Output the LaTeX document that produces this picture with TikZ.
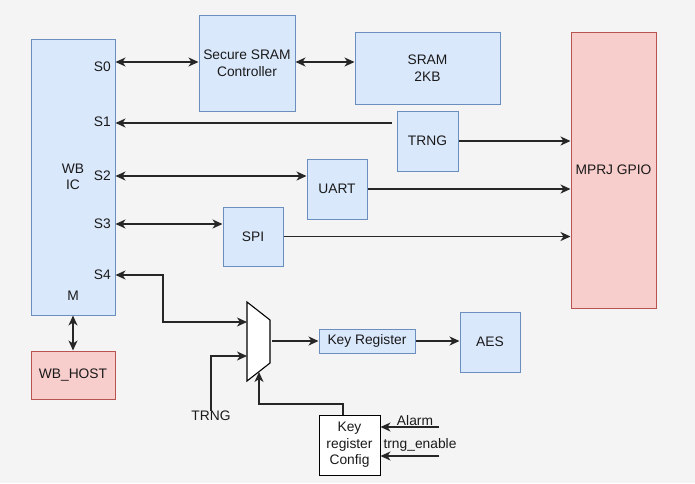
\documentclass[tikz,border=0pt]{standalone}
\usepackage{fontspec}
\setmainfont{Liberation Sans}
\usetikzlibrary{arrows.meta}
\definecolor{bgc}{HTML}{F4F4F4}
\definecolor{bfill}{HTML}{DAE8FC}
\definecolor{bdraw}{HTML}{6C8EBF}
\definecolor{rfill}{HTML}{F8CECC}
\definecolor{rdraw}{HTML}{B85450}
\definecolor{txt}{HTML}{1A1A1A}
\begin{document}
\begin{tikzpicture}[x=1pt,y=-1pt,
  font=\fontsize{13.8}{16.5}\selectfont,
  blk/.style={draw=bdraw,fill=bfill,line width=1pt,inner sep=0pt,align=center,text=txt},
  rblk/.style={draw=rdraw,fill=rfill,line width=1pt,inner sep=0pt,align=center,text=txt},
  wblk/.style={draw=black,fill=white,line width=1pt,inner sep=0pt,align=center,text=txt},
  lbl/.style={inner sep=0pt,text=txt,align=center},
  con/.style={line width=1.3pt,draw=black!85},
  tip/.tip={Stealth[length=10pt,width=9pt,inset=3pt]},
  ar/.style={con,-tip},
  dar/.style={con,tip-tip}]
\useasboundingbox[fill=bgc] (0,0) rectangle (695,483);

% blocks
\node[blk,minimum width=84,minimum height=276] (wb) at (73,177) {};
\node[lbl] (wbt) at (73,177) {WB\\IC};
\node[lbl] (mt) at (73,296) {M};
\node[lbl,anchor=east] (s0) at (111,67) {S0};
\node[lbl,anchor=east] (s1) at (111,122) {S1};
\node[lbl,anchor=east] (s2) at (111,176) {S2};
\node[lbl,anchor=east] (s3) at (111,224) {S3};
\node[lbl,anchor=east] (s4) at (111,275) {S4};

\node[rblk,minimum width=84,minimum height=48] (host) at (73,375) {WB\_HOST};
\node[blk,minimum width=96,minimum height=96] (ctrl) at (247,63) {Secure SRAM\\Controller};
\node[blk,minimum width=145,minimum height=72] (sram) at (427.5,68) {SRAM\\2KB};
\node[blk,minimum width=61,minimum height=60] (trng) at (427.5,141) {TRNG};
\node[rblk,minimum width=85,minimum height=276] (mprj) at (613.5,170) {MPRJ GPIO};
\node[blk,minimum width=60,minimum height=60] (uart) at (337,189) {UART};
\node[blk,minimum width=60,minimum height=59] (spi) at (253,236.5) {SPI};
\node[blk,minimum width=96,minimum height=24] (keyreg) at (367,341) {Key Register};
\node[blk,minimum width=60,minimum height=60] (aes) at (490,342) {AES};
\node[wblk,minimum width=61,minimum height=60] (cfg) at (349.5,445) {Key\\register\\Config};

% mux
\coordinate (m1) at (247,302);
\coordinate (m2) at (270,320);
\coordinate (m3) at (270,363);
\coordinate (m4) at (247,381);
\draw[fill=white,draw=black,line width=1.1pt] (m1) -- (m2) -- (m3) -- (m4) -- cycle;
\coordinate (in1) at (247,322);
\coordinate (in2) at (247,356);
\coordinate (mout) at (272,341);
\coordinate (msel) at (259,372);

% labels
\node[lbl] (trnglbl) at (211,416) {TRNG};
\node[lbl] (alarm) at (415,421) {Alarm};
\node[lbl] (tren) at (420,445) {trng\_enable};
\coordinate (alarmsrc) at (439,427);
\coordinate (trensrc) at (439,456);
\coordinate (trngsrc) at (392,123);
\coordinate (s4turn) at (163,322);
\coordinate (cfgtop) at (343,415);

% connectors
\draw[dar] (wb.east |- 0,62) -- (ctrl.west |- 0,62);
\draw[dar] (ctrl.east |- 0,62) -- (sram.west |- 0,62);
\draw[ar] (trngsrc) -- (wb.east |- trngsrc);
\draw[ar] (trng.east) -- (mprj.west |- trng.east);
\draw[dar] (wb.east |- 0,176) -- (uart.west |- 0,176);
\draw[ar] (uart.east) -- (mprj.west |- uart.east);
\draw[dar] (wb.east |- 0,224) -- (spi.west |- 0,224);
\draw[ar] (spi.east) -- (mprj.west |- spi.east);
\draw[dar] (wb.east |- s4) -| (s4turn) -- (in1);
\draw[ar] (trnglbl.north) |- (in2);
\draw[ar] (mout) -- (keyreg.west);
\draw[ar] (keyreg.east) -- (aes.west |- keyreg.east);
\draw[ar] (cfgtop) |- (msel |- 0,404) -- (msel);
\draw[ar] (alarmsrc) -- (cfg.east |- alarmsrc);
\draw[ar] (trensrc) -- (cfg.east |- trensrc);
\draw[dar] (wb.south) -- (host.north);
\end{tikzpicture}
\end{document}
